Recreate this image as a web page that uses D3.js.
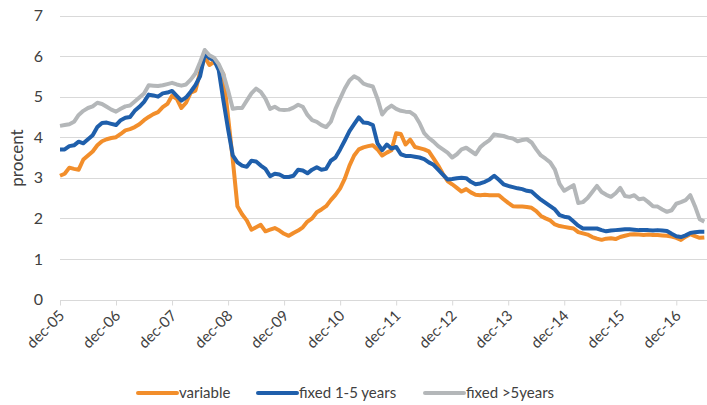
<!DOCTYPE html>
<html>
<head>
    <script src="https://d3js.org/d3.v7.min.js"></script>
    <style>
        body {
            margin: 0;
            background-color: white;
        }

        .grid line {
            stroke: #d9d9d9;
            stroke-width: 1px;
        }

        .tick-label, .legend-label, .axis-title {
            font-family: Lato, "Open Sans", sans-serif;
            fill: #404040;
        }

        .series {
            fill: none;
            stroke-width: 4px;
            stroke-linejoin: round;
        }
    </style>
</head>
<body>
    <script>
        // month index 0 = dec-05, one value per month
        const startLabels = ['dec-05', 'dec-06', 'dec-07', 'dec-08', 'dec-09', 'dec-10',
                             'dec-11', 'dec-12', 'dec-13', 'dec-14', 'dec-15', 'dec-16'];
        const yTicks = [0, 1, 2, 3, 4, 5, 6, 7];

        const variable = [
            3.05, 3.10, 3.25, 3.22, 3.20, 3.45, 3.55, 3.65, 3.80, 3.90, 3.95, 3.98,
            4.00, 4.08, 4.17, 4.20, 4.25, 4.32, 4.42, 4.50, 4.57, 4.62, 4.74, 4.82,
            5.02, 4.95, 4.72, 4.85, 5.10, 5.15, 5.60, 5.98, 5.78, 5.86, 5.75, 5.55,
            4.50, 3.45, 2.30, 2.10, 1.95, 1.72, 1.78, 1.84, 1.68, 1.72, 1.76, 1.70,
            1.62, 1.57, 1.64, 1.70, 1.78, 1.92, 2.00, 2.15, 2.22, 2.30, 2.45, 2.58,
            2.74, 2.98, 3.30, 3.55, 3.70, 3.75, 3.78, 3.80, 3.70, 3.55, 3.62, 3.68,
            4.10, 4.08, 3.82, 3.94, 3.76, 3.73, 3.70, 3.65, 3.48, 3.30, 3.10, 2.92,
            2.84, 2.75, 2.66, 2.72, 2.64, 2.58, 2.57, 2.58, 2.57, 2.57, 2.57, 2.47,
            2.38, 2.30, 2.29, 2.29, 2.28, 2.26, 2.18, 2.06, 2.00, 1.95, 1.85, 1.81,
            1.79, 1.77, 1.75, 1.66, 1.63, 1.60, 1.54, 1.50, 1.47, 1.50, 1.51, 1.49,
            1.54, 1.57, 1.60, 1.61, 1.60, 1.59, 1.60, 1.59, 1.59, 1.58, 1.57, 1.55,
            1.52, 1.47, 1.55, 1.61, 1.56, 1.52, 1.53
        ];

        const fixed1to5 = [
            3.70, 3.70, 3.78, 3.80, 3.89, 3.85, 3.95, 4.05, 4.25, 4.35, 4.36, 4.33,
            4.30, 4.42, 4.48, 4.50, 4.65, 4.75, 4.87, 5.05, 5.03, 5.00, 5.08, 5.10,
            5.14, 5.02, 4.90, 4.98, 5.12, 5.28, 5.50, 6.05, 5.95, 5.90, 5.65, 4.90,
            4.20, 3.55, 3.38, 3.30, 3.27, 3.42, 3.40, 3.30, 3.22, 3.04, 3.10, 3.08,
            3.02, 3.02, 3.05, 3.20, 3.18, 3.11, 3.20, 3.26, 3.20, 3.22, 3.42, 3.50,
            3.70, 3.92, 4.15, 4.32, 4.49, 4.36, 4.35, 4.30, 3.85, 3.68, 3.82, 3.72,
            3.76, 3.58, 3.54, 3.54, 3.52, 3.50, 3.46, 3.38, 3.32, 3.20, 3.08, 2.96,
            2.97, 2.99, 3.00, 2.99, 2.90, 2.84, 2.86, 2.90, 2.96, 3.05, 2.95, 2.84,
            2.80, 2.77, 2.74, 2.72, 2.68, 2.66, 2.56, 2.46, 2.38, 2.30, 2.22, 2.08,
            2.04, 2.02, 1.92, 1.82, 1.75, 1.75, 1.75, 1.75, 1.71, 1.68, 1.70, 1.71,
            1.72, 1.73, 1.73, 1.72, 1.71, 1.71, 1.71, 1.70, 1.71, 1.70, 1.69, 1.62,
            1.56, 1.54, 1.58, 1.64, 1.66, 1.67, 1.67
        ];

        const fixedOver5 = [
            4.28, 4.30, 4.32, 4.38, 4.55, 4.65, 4.72, 4.76, 4.85, 4.82, 4.75, 4.68,
            4.63, 4.70, 4.76, 4.78, 4.88, 4.98, 5.08, 5.28, 5.27, 5.26, 5.28, 5.31,
            5.34, 5.30, 5.27, 5.30, 5.42, 5.57, 5.85, 6.15, 6.02, 5.96, 5.80, 5.55,
            5.15, 4.70, 4.72, 4.72, 4.90, 5.08, 5.20, 5.12, 4.95, 4.70, 4.75, 4.68,
            4.67, 4.68, 4.73, 4.80, 4.75, 4.55, 4.42, 4.38, 4.30, 4.25, 4.38, 4.70,
            4.95, 5.20, 5.40, 5.50, 5.44, 5.32, 5.28, 5.25, 4.95, 4.56, 4.70, 4.78,
            4.70, 4.65, 4.63, 4.62, 4.54, 4.35, 4.10, 3.98, 3.89, 3.78, 3.70, 3.62,
            3.50, 3.58, 3.70, 3.74, 3.66, 3.58, 3.75, 3.85, 3.93, 4.07, 4.05, 4.03,
            3.99, 3.97, 3.90, 3.93, 3.95, 3.87, 3.70, 3.55, 3.47, 3.38, 3.20, 2.85,
            2.68, 2.75, 2.82, 2.38, 2.40, 2.50, 2.65, 2.80, 2.65, 2.58, 2.53, 2.62,
            2.75, 2.55, 2.53, 2.57, 2.47, 2.49, 2.40, 2.30, 2.29, 2.22, 2.16, 2.20,
            2.36, 2.40, 2.45, 2.57, 2.30, 1.98, 1.92
        ];

        const seriesNames = ['variable', 'fixed 1-5 years', 'fixed >5years'];
        const seriesColors = ['#f28e2b', '#1f5fab', '#b4b7b9'];
        const seriesData = [variable, fixed1to5, fixedOver5];

        const width = 707;
        const height = 405;

        const svg = d3.select('body').append('svg')
            .attr('width', width)
            .attr('height', height);

        const x = d3.scaleLinear()
            .domain([0, 132])
            .range([60, 676.3]);

        const y = d3.scaleLinear()
            .domain([0, 7])
            .range([299.5, 15.5]);

        // horizontal gridlines
        svg.append('g')
            .attr('class', 'grid')
            .selectAll('line')
            .data(yTicks.slice(1))
            .enter().append('line')
            .attr('x1', 60)
            .attr('x2', 707)
            .attr('y1', d => Math.round(y(d)) + 0.5)
            .attr('y2', d => Math.round(y(d)) + 0.5);

        svg.append('g')
            .selectAll('text')
            .data(yTicks)
            .enter().append('text')
            .attr('class', 'tick-label')
            .attr('x', 43)
            .attr('y', d => y(d))
            .attr('dy', '0.35em')
            .attr('text-anchor', 'end')
            .style('font-size', '16px')
            .text(d => d);

        svg.append('text')
            .attr('class', 'axis-title')
            .attr('transform', 'translate(23,158) rotate(-90)')
            .attr('text-anchor', 'middle')
            .style('font-size', '17px')
            .text('procent');

        // x axis: baseline, yearly ticks, rotated labels
        const xAxis = d3.axisBottom(x)
            .tickValues(startLabels.map((d, i) => i * 12))
            .tickFormat((d, i) => startLabels[i])
            .tickSize(5)
            .tickSizeOuter(0);

        const xg = svg.append('g')
            .attr('transform', `translate(0,${Math.round(y(0)) + 0.5})`)
            .call(xAxis);

        xg.select('.domain')
            .attr('d', `M60,0H707`)
            .attr('stroke', '#d9d9d9');
        xg.selectAll('.tick line').attr('stroke', '#d9d9d9');
        xg.selectAll('.tick text')
            .attr('class', 'tick-label')
            .attr('text-anchor', 'end')
            .attr('dy', 0)
            .attr('y', 0)
            .attr('transform', 'translate(5,16) rotate(-45)')
            .style('font-size', '15px');

        const line = d3.line()
            .x((d, i) => x(i))
            .y(d => y(d));

        svg.append('defs').append('clipPath')
            .attr('id', 'plot')
            .append('rect')
            .attr('x', 0).attr('y', 0)
            .attr('width', 707).attr('height', 305);

        svg.append('g')
            .attr('clip-path', 'url(#plot)')
            .selectAll('path')
            .data(seriesData)
            .enter().append('path')
            .attr('class', 'series')
            .attr('stroke', (d, i) => seriesColors[i])
            .attr('d', line);

        // legend
        const legendX = [138, 258, 425];
        const legend = svg.append('g')
            .selectAll('g')
            .data(seriesNames)
            .enter().append('g')
            .attr('transform', (d, i) => `translate(${legendX[i]},393)`);

        legend.append('line')
            .attr('x1', 0).attr('x2', 39)
            .attr('stroke', (d, i) => seriesColors[i])
            .attr('stroke-width', 4)
            .attr('stroke-linecap', 'round');

        legend.append('text')
            .attr('class', 'legend-label')
            .attr('x', 41)
            .attr('dy', '0.35em')
            .style('font-size', '15px')
            .text(d => d);
    </script>
</body>
</html>
